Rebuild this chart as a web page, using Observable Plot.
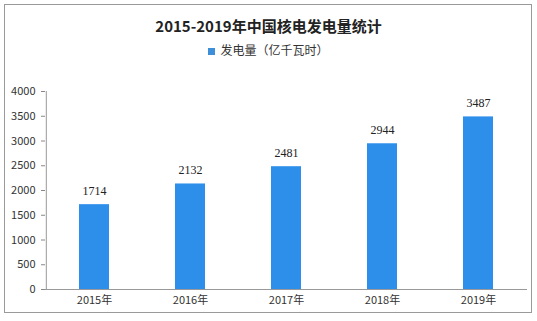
<!DOCTYPE html>
<html>
<head>
<meta charset="utf-8">
<script src="https://cdn.jsdelivr.net/npm/d3@7"></script>
<script src="https://cdn.jsdelivr.net/npm/@observablehq/plot@0.6"></script>
<style>
  html, body { margin: 0; padding: 0; background: #fff; }
  #wrap { position: relative; width: 537px; height: 321px; overflow: hidden; font-family: "Noto Sans CJK SC", sans-serif; }
  #frame { position: absolute; left: 4px; top: 4px; width: 528px; height: 309px; border: 1px solid #9a9a9a; box-sizing: border-box; pointer-events: none; }
  #title { position: absolute; left: 0; width: 537px; top: 15px; text-align: center; font-size: 15px; font-weight: bold; color: #222; line-height: 22px; font-family: "Noto Sans CJK SC", serif; }
  #legend { position: absolute; left: 0; width: 537px; top: 41px; text-align: center; font-size: 12px; color: #333; line-height: 18px; }
  #legend .sw { display: inline-block; width: 7px; height: 7px; background: #3d8fd9; margin-right: 5px; vertical-align: 0px; }
  #chart { position: absolute; left: 0; top: 62px; }
</style>
</head>
<body>
<div id="wrap">
  <div id="title"></div>
  <div id="legend"></div>
  <div id="chart"></div>
  <div id="frame"></div>
</div>
<script>
const titleText = "2015-2019年中国核电发电量统计";
const seriesName = "发电量（亿千瓦时）";
const years = ["2015年", "2016年", "2017年", "2018年", "2019年"];
const values = [1714, 2132, 2481, 2944, 3487];
const yTicks = [0, 500, 1000, 1500, 2000, 2500, 3000, 3500, 4000];

document.getElementById("title").textContent = titleText;
document.getElementById("legend").innerHTML = '<span class="sw"></span>' + seriesName;

const data = years.map((y, i) => ({year: y, value: values[i]}));

const chart = Plot.plot({
  width: 537,
  height: 259,
  marginTop: 29,
  marginBottom: 32,
  marginLeft: 45,
  marginRight: 10,
  style: {background: "transparent", fontFamily: "Noto Sans CJK SC", fontSize: "11px", color: "#333"},
  x: {domain: years, paddingInner: 0.69, paddingOuter: 0.345, label: null},
  y: {domain: [0, 4000], label: null},
  marks: [
    Plot.axisY({ticks: yTicks, tickFormat: d => String(d), tickSize: 4, tickPadding: 6, stroke: "#888", fill: "#333", fontSize: 11, label: null}),
    Plot.ruleX([0], {x: () => years[0], dx: -48.2, stroke: "#999", y1: 0, y2: 4000}),
    Plot.axisX({tickSize: 0, tickPadding: 7, fill: "#333", fontSize: 11, label: null}),
    Plot.barY(data, {x: "year", y: "value", fill: "#2e8fea"}),
    Plot.ruleY([0], {stroke: "#999"}),
    Plot.text(data, {x: "year", y: "value", text: d => String(d.value), dy: -14, fontSize: 12, fill: "#222", fontFamily: "Liberation Serif"})
  ]
});
document.getElementById("chart").appendChild(chart);
</script>
</body>
</html>
